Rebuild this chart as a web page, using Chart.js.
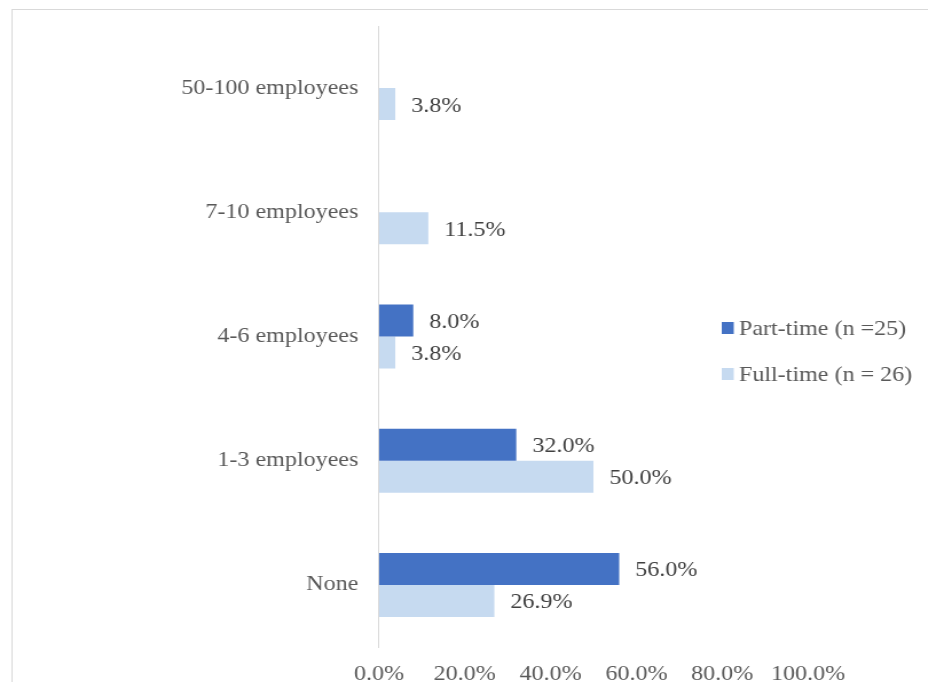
<!DOCTYPE html>
<html>
<head>
<meta charset="utf-8">
<script src="https://cdn.jsdelivr.net/npm/chart.js@4"></script>
<style>
html,body{margin:0;padding:0;background:#fff;overflow:hidden;width:928px;height:682px;}
#c{display:block;transform:scaleX(1.1456);transform-origin:0 0;}
</style>
</head>
<body>
<canvas id="c" width="810" height="682"></canvas>
<script>
const categories = ["50-100 employees", "7-10 employees", "4-6 employees", "1-3 employees", "None"];
const partTime = [null, null, 8.0, 32.0, 56.0];
const fullTime = [3.8, 11.5, 3.8, 50.0, 26.9];
const seriesNames = ["Part-time (n =25)", "Full-time (n = 26)"];
const tickValues = [0, 20, 40, 60, 80, 100];

const FONT = "'Liberation Serif', 'Times New Roman', serif";
const COLORS = ["#4472C4", "#C6DAF0"];

const extras = {
  id: 'extras',
  beforeDraw(chart) {
    const ctx = chart.ctx;
    ctx.save();
    ctx.strokeStyle = '#D9D9D9';
    ctx.lineWidth = 1;
    ctx.strokeRect(10.5, 9.5, 2000, 2000);
    ctx.restore();
  },
  afterDatasetsDraw(chart) {
    const ctx = chart.ctx;
    ctx.save();
    ctx.font = '21px ' + FONT;
    ctx.fillStyle = '#404040';
    ctx.textAlign = 'left';
    ctx.textBaseline = 'middle';
    chart.data.datasets.forEach((ds, di) => {
      const meta = chart.getDatasetMeta(di);
      meta.data.forEach((bar, i) => {
        const v = ds.data[i];
        if (v === null || v === undefined) return;
        ctx.fillText(v.toFixed(1) + '%', bar.x + 14, bar.y + 2);
      });
    });
    // legend
    const items = [{y: 328}, {y: 374}];
    items.forEach((it, k) => {
      ctx.fillStyle = COLORS[k];
      ctx.fillRect(630, it.y - 6, 10.5, 12);
      ctx.fillStyle = '#595959';
      ctx.fillText(seriesNames[k], 645, it.y + 1);
    });
    ctx.restore();
  }
};

new Chart(document.getElementById('c'), {
  type: 'bar',
  data: {
    labels: categories,
    datasets: [
      {label: seriesNames[0], data: partTime, backgroundColor: COLORS[0], categoryPercentage: 0.515, barPercentage: 1.0},
      {label: seriesNames[1], data: fullTime, backgroundColor: COLORS[1], categoryPercentage: 0.515, barPercentage: 1.0}
    ]
  },
  options: {
    indexAxis: 'y',
    responsive: false,
    animation: false,
    layout: {padding: {left: 0, right: 104.7, top: 26, bottom: 0}},
    plugins: {legend: {display: false}, tooltip: {enabled: false}},
    scales: {
      x: {
        min: 0, max: 100,
        afterBuildTicks(scale) { scale.ticks = tickValues.map(v => ({value: v})); },
        afterFit(scale) { scale.height = 35; scale.paddingLeft = 0; scale.paddingRight = 0; },
        grid: {display: false, drawTicks: false},
        border: {display: false},
        ticks: {
          padding: 15,
          color: '#595959',
          font: {family: FONT, size: 21},
          maxRotation: 0,
          autoSkip: false,
          callback: v => v.toFixed(1) + '%'
        }
      },
      y: {
        afterFit(scale) { scale.width = 330.8; scale.paddingTop = 0; scale.paddingBottom = 0; },
        grid: {display: false, drawTicks: false},
        border: {display: true, color: '#D9D9D9', width: 1},
        ticks: {
          padding: 18,
          color: '#595959',
          font: {family: FONT, size: 21}
        }
      }
    }
  },
  plugins: [extras]
});
</script>
</body>
</html>
